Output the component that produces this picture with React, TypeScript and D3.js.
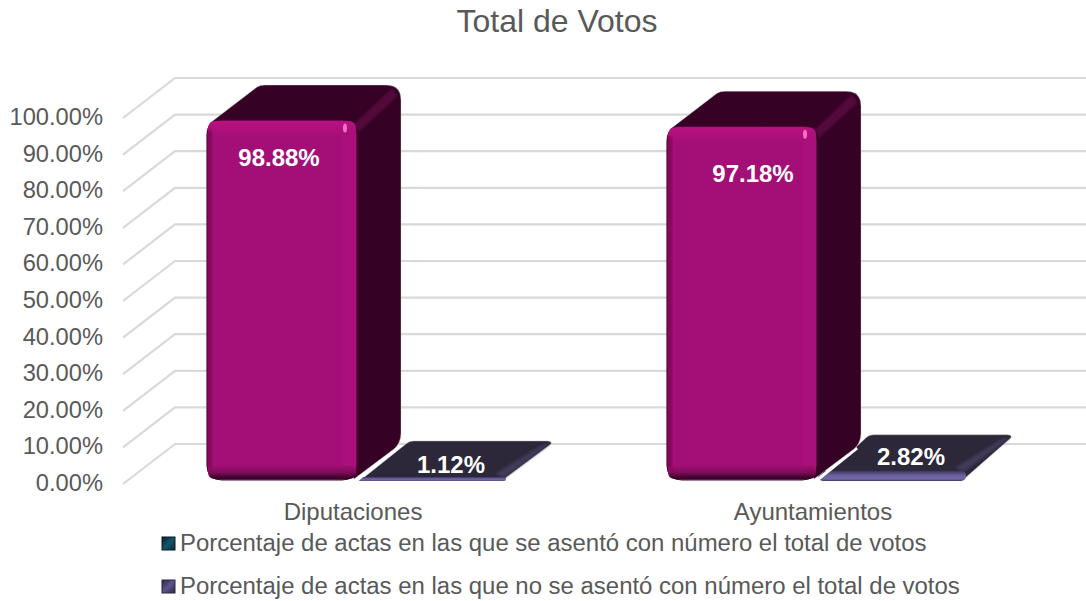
import React from "react";
import * as d3 from "d3";

const categories = ["Diputaciones", "Ayuntamientos"];
const seriesNames = [
  "Porcentaje de actas en las que se asentó con número el total de votos",
  "Porcentaje de actas en las que no se asentó con número el total de votos",
];
const withNumber = [98.88, 97.18];
const withoutNumber = [1.12, 2.82];
const ticks = [0, 10, 20, 30, 40, 50, 60, 70, 80, 90, 100];

const W = 1086, H = 601;
const FONT = "'Liberation Sans', Arial, sans-serif";
const GREY = "#595959";
const yGrid = d3.scaleLinear().domain([0, 100]).range([484, 118]);
const y = d3.scaleLinear().domain([0, 100]).range([480, 116]);
const x0 = d3.scaleBand().domain(categories).range([207, 1127]);
const barW = 150;
const wallDx = 52, wallDy = -40;
const dx = 44, dy = -35;
const r = 15;

function rr(x: number, yy: number, w: number, h: number, rad: number) {
  const p = d3.path();
  const q = Math.min(rad, h / 2, w / 2);
  p.moveTo(x + q, yy);
  p.lineTo(x + w - q, yy);
  p.quadraticCurveTo(x + w, yy, x + w, yy + q);
  p.lineTo(x + w, yy + h - q);
  p.quadraticCurveTo(x + w, yy + h, x + w - q, yy + h);
  p.lineTo(x + q, yy + h);
  p.quadraticCurveTo(x, yy + h, x, yy + h - q);
  p.lineTo(x, yy + q);
  p.quadraticCurveTo(x, yy, x + q, yy);
  p.closePath();
  return p.toString();
}

function poly(pts: [number, number][]) {
  return d3.line().curve(d3.curveLinearClosed)(pts) as string;
}

function MagentaBar({ x, value }: { x: number; value: number }) {
  const yBase = y(0);
  const yTop = y(value);
  const h = yBase - yTop;
  const s = d3.path();
  s.moveTo(x + 3, yTop + 3);
  s.lineTo(x + dx + 6, yTop + dy + 2);
  s.quadraticCurveTo(x + dx + 9, yTop + dy, x + dx + 14, yTop + dy);
  s.lineTo(x + barW + dx - r, yTop + dy);
  s.quadraticCurveTo(x + barW + dx, yTop + dy, x + barW + dx, yTop + dy + r);
  s.lineTo(x + barW + dx, yBase + dy - r + 3);
  s.quadraticCurveTo(x + barW + dx, yBase + dy - 2, x + barW + dx - 7, yBase + dy + 4);
  s.lineTo(x + barW - 3, yBase - 1);
  s.closePath();
  return (
    <g>
      <line x1={x + barW - 1} y1={yBase + 1} x2={x + barW + dx - 4} y2={yBase + dy + 3} stroke="#fff" strokeWidth={3} />
      <path d={s.toString()} fill="#350124" stroke="#cfcfcf" strokeOpacity={0.5} strokeWidth={0.8} />
      <path
        d={poly([
          [x + barW - 3, yTop + 4],
          [x + barW + dx - 9, yTop + dy + 3],
          [x + barW + dx - 3, yTop + dy + 11],
          [x + barW + 2, yTop + 12],
        ])}
        fill="#5b0a42"
        opacity={0.75}
        filter="url(#soft)"
      />
      <path d={rr(x, yTop, barW, h, r)} fill="#a30f76" stroke="#4a0232" strokeWidth={1} />
      <path d={rr(x + 1, yTop + 1, barW - 2, 16, 12)} fill="url(#gloss)" />
      <path d={rr(x + 1, yBase - 15, barW - 2, 14, 12)} fill="url(#shade)" />
      <rect x={x + barW - 14} y={yTop + 14} width={13} height={h - 28} fill="#ad1080" opacity={0.6} />
      <rect x={x} y={yTop + 10} width={5} height={h - 22} fill="#63063f" opacity={0.5} filter="url(#soft)" />
      <ellipse cx={x + barW - 12} cy={yTop + 8} rx={2} ry={4.5} fill="#f66fc6" />
    </g>
  );
}

function PurpleBar({ x, value }: { x: number; value: number }) {
  const yBase = y(0);
  const yTop = y(value);
  const h = yBase - yTop;
  const s = d3.path();
  s.moveTo(x + 5, yBase - 1);
  s.lineTo(x + dx + 5, yTop + dy + 3);
  s.quadraticCurveTo(x + dx + 8, yTop + dy, x + dx + 13, yTop + dy);
  s.lineTo(x + barW + dx - 4, yTop + dy);
  s.quadraticCurveTo(x + barW + dx + 1, yTop + dy, x + barW + dx, yTop + dy + 3);
  s.lineTo(x + barW - 3, yBase - 1);
  s.closePath();
  return (
    <g>
      <path d={s.toString()} fill="#2c2739" stroke="#bdbdbd" strokeOpacity={0.6} strokeWidth={0.8} />
      <path
        d={poly([
          [x + barW + dx - 1, yTop + dy + 3],
          [x + barW + dx - 9, yTop + dy + 4],
          [x + barW - 12, yTop - 2],
          [x + barW - 3, yTop + 2],
        ])}
        fill="#4b4468"
        opacity={0.7}
        filter="url(#soft)"
      />
      <path d={rr(x + 1, yTop + 1, barW - 2, h, 6)} fill="url(#frontP)" />
    </g>
  );
}

export default function App() {
  return (
    <svg
      width={W}
      height={H}
      viewBox={`0 0 ${W} ${H}`}
      style={{ position: "absolute", left: 0, top: 0, background: "#fff", display: "block" }}
      fontFamily={FONT}
    >
      <defs>
        <linearGradient id="frontP" x1="0" y1="0" x2="0" y2="1">
          <stop offset="0" stopColor="#3a3454" />
          <stop offset="0.45" stopColor="#6a60a0" />
          <stop offset="0.8" stopColor="#7268a8" />
          <stop offset="1" stopColor="#3e3762" />
        </linearGradient>
        <linearGradient id="gloss" x1="0" y1="0" x2="0" y2="1">
          <stop offset="0" stopColor="#b8127f" />
          <stop offset="1" stopColor="#a30f76" />
        </linearGradient>
        <linearGradient id="shade" x1="0" y1="0" x2="0" y2="1">
          <stop offset="0" stopColor="#a30f76" />
          <stop offset="0.55" stopColor="#7d0b59" />
          <stop offset="1" stopColor="#2a021d" />
        </linearGradient>
        <linearGradient id="leg1" x1="0" y1="0" x2="1" y2="1">
          <stop offset="0" stopColor="#0c1a24" />
          <stop offset="0.5" stopColor="#11566e" />
          <stop offset="1" stopColor="#0c2633" />
        </linearGradient>
        <linearGradient id="leg2" x1="0" y1="0" x2="1" y2="1">
          <stop offset="0" stopColor="#2b2740" />
          <stop offset="0.5" stopColor="#5d5490" />
          <stop offset="1" stopColor="#2b2740" />
        </linearGradient>
        <filter id="soft" x="-20%" y="-20%" width="140%" height="140%">
          <feGaussianBlur stdDeviation="1.5" />
        </filter>
      </defs>

      <text x={557} y={32} textAnchor="middle" fontSize={32} fill={GREY}>Total de Votos</text>

      {ticks.map((t) => {
        const fy = yGrid(t);
        return (
          <g key={t}>
            <polyline
              points={`123,${fy} ${123 + wallDx},${fy + wallDy} 1086,${fy + wallDy}`}
              fill="none"
              stroke="#d9d9d9"
              strokeWidth={2.2}
            />
            <text x={103} y={fy + 7} textAnchor="end" fontSize={23.7} fill={GREY}>
              {`${t.toFixed(2)}%`}
            </text>
          </g>
        );
      })}

      {categories.map((c, i) => {
        const gx = x0(c)!;
        return (
          <g key={c}>
            <PurpleBar x={gx + barW} value={withoutNumber[i]} />
            <MagentaBar x={gx} value={withNumber[i]} />
            <text x={gx + 146} y={520} textAnchor="middle" fontSize={24} fill={GREY}>{c}</text>
            <text
              x={gx + (i === 0 ? 72 : 86)}
              y={y(withNumber[i]) + (i === 0 ? 46 : 56)}
              textAnchor="middle"
              fontSize={24}
              fontWeight={700}
              fill="#fff"
            >
              {`${withNumber[i].toFixed(2)}%`}
            </text>
            <text x={gx + 244} y={i === 0 ? 473 : 465} textAnchor="middle" fontSize={24} fontWeight={700} fill="#fff">
              {`${withoutNumber[i].toFixed(2)}%`}
            </text>
          </g>
        );
      })}

      {seriesNames.map((s, i) => {
        const ly = 543 + i * 43;
        return (
          <g key={s}>
            <rect x={162} y={ly - 6} width={13} height={13} fill={`url(#leg${i + 1})`} stroke={i === 0 ? "#0b1c26" : "#2b2740"} />
            <text x={180} y={ly + 8} fontSize={23.95} fill={GREY}>{s}</text>
          </g>
        );
      })}
    </svg>
  );
}
